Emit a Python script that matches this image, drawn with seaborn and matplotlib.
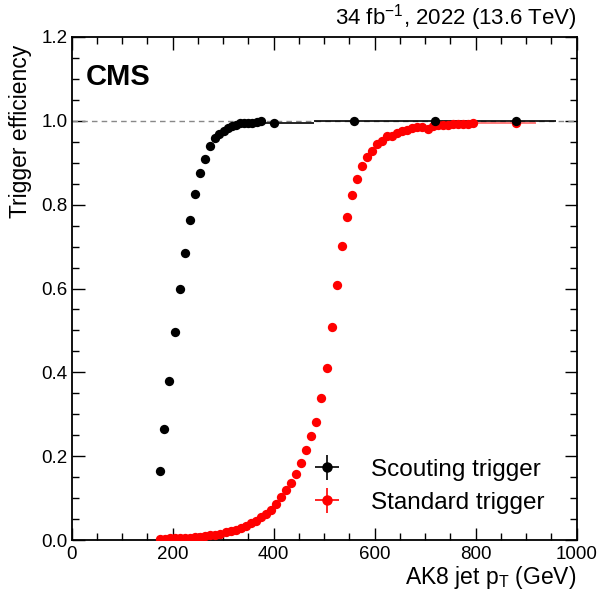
import numpy as np
import pandas as pd
import matplotlib
matplotlib.use("Agg")
import matplotlib.pyplot as plt
import seaborn as sns

# ---- data ----
scout_pt = [175, 184, 194, 204, 214, 224, 234, 245, 254, 264, 274, 284, 293, 301,
            309, 317, 325, 334, 342, 350, 358, 367, 375, 400, 560, 720, 880]
scout_eff = [0.165, 0.266, 0.379, 0.496, 0.598, 0.684, 0.763, 0.825, 0.875, 0.909,
             0.940, 0.958, 0.969, 0.976, 0.983, 0.988, 0.991, 0.995, 0.995, 0.995,
             0.996, 0.997, 0.999, 0.996, 1.000, 1.000, 1.000]
scout_xerr_lo = [5] * 23 + [80, 80, 80, 80]
scout_xerr_hi = [5] * 23 + [80, 80, 80, 80]

std_pt = [175, 185, 195, 205, 215, 225, 235, 245, 255, 265, 275, 285, 295, 305,
          315, 325, 335, 345, 355, 365, 375, 385, 395, 405, 415, 425, 435, 445,
          455, 465, 475, 485, 495, 505, 515, 525, 535, 545, 555, 565, 575, 585,
          595, 605, 615, 625, 635, 645, 655, 665, 675, 685, 695, 705, 715, 725,
          735, 745, 755, 765, 775, 785, 795, 880]
std_eff = [0.003, 0.003, 0.004, 0.004, 0.005, 0.005, 0.006, 0.007, 0.008, 0.009,
           0.011, 0.013, 0.015, 0.018, 0.021, 0.025, 0.029, 0.034, 0.040, 0.046,
           0.054, 0.062, 0.072, 0.085, 0.102, 0.119, 0.137, 0.157, 0.184, 0.214,
           0.249, 0.281, 0.338, 0.411, 0.509, 0.609, 0.701, 0.770, 0.823, 0.861,
           0.893, 0.913, 0.927, 0.944, 0.952, 0.963, 0.965, 0.970, 0.975, 0.979,
           0.983, 0.985, 0.986, 0.981, 0.988, 0.990, 0.991, 0.991, 0.992, 0.993,
           0.993, 0.993, 0.994, 0.995]
std_xerr_lo = [5] * 63 + [80]
std_xerr_hi = [5] * 63 + [40]

labels = ["Scouting trigger", "Standard trigger"]
x_ticks = [0, 200, 400, 600, 800, 1000]
y_ticks = [0.0, 0.2, 0.4, 0.6, 0.8, 1.0, 1.2]

# ---- style ----
sns.set_theme(style="ticks")
plt.rcParams["font.family"] = ["Liberation Sans", "DejaVu Sans"]
plt.rcParams["mathtext.fontset"] = "custom"
plt.rcParams["mathtext.rm"] = "Liberation Sans"
plt.rcParams["mathtext.it"] = "Liberation Sans:italic"
plt.rcParams["text.color"] = "black"
plt.rcParams["axes.labelcolor"] = "black"
plt.rcParams["xtick.color"] = "black"
plt.rcParams["ytick.color"] = "black"

fig = plt.figure(figsize=(5.97, 5.90), dpi=100)
ax = fig.add_axes([0.1198, 0.0847, 0.8459, 0.8526])

df_s = pd.DataFrame({"pt": scout_pt, "eff": scout_eff})
df_r = pd.DataFrame({"pt": std_pt, "eff": std_eff})

ax.axhline(1.0, color="#888888", ls=(0, (4, 3)), lw=1.0, zorder=1)

ax.errorbar(scout_pt, scout_eff, xerr=[scout_xerr_lo, scout_xerr_hi], fmt="none",
            ecolor="black", elinewidth=1.2, zorder=2)
ax.errorbar(std_pt, std_eff, xerr=[std_xerr_lo, std_xerr_hi], fmt="none",
            ecolor="red", elinewidth=1.2, alpha=0.6, zorder=2)

sns.scatterplot(data=df_r, x="pt", y="eff", color="red", s=45, linewidth=0,
                ax=ax, legend=False, zorder=3)
sns.scatterplot(data=df_s, x="pt", y="eff", color="black", s=45, linewidth=0,
                ax=ax, legend=False, zorder=4)

# legend handles (cross-style error-bar markers)
h1 = ax.errorbar([np.nan], [np.nan], xerr=[1], yerr=[1], fmt="o", color="black",
                 ms=6.5, elinewidth=1.2)
h2 = ax.errorbar([np.nan], [np.nan], xerr=[1], yerr=[1], fmt="o", color="red",
                 ms=6.5, elinewidth=1.2)
ax.legend([h1, h2], labels, loc="lower left", bbox_to_anchor=(0.472, 0.052),
          frameon=False, fontsize=17.5, handlelength=1.4, handletextpad=1.1,
          labelspacing=0.45, borderaxespad=0, borderpad=0)

ax.set_xlim(0, 1000)
ax.set_ylim(0, 1.2)
ax.set_xticks(x_ticks)
ax.set_yticks(y_ticks)
ax.set_xticklabels([str(v) for v in x_ticks])
ax.set_yticklabels([f"{v:.1f}" for v in y_ticks])
ax.xaxis.set_minor_locator(matplotlib.ticker.MultipleLocator(50))
ax.yaxis.set_minor_locator(matplotlib.ticker.MultipleLocator(0.05))
ax.tick_params(which="both", direction="in", top=True, right=True,
               labelsize=13.5, colors="black", width=1.0)
ax.tick_params(which="major", length=9)
ax.tick_params(which="minor", length=5)
ax.tick_params(axis="x", pad=4)
ax.tick_params(axis="y", pad=3)
for s in ax.spines.values():
    s.set_visible(True)
    s.set_linewidth(1.3)
    s.set_color("black")

ax.set_xlabel(r"AK8 jet p$_\mathrm{T}$ (GeV)", loc="right", fontsize=16.5,
              labelpad=1)
ax.set_ylabel("Trigger efficiency", loc="top", fontsize=16.5)
ax.yaxis.set_label_coords(-0.078, 0.985)

ax.text(0.028, 0.948, "CMS", transform=ax.transAxes, ha="left", va="top",
        fontsize=21, fontweight="bold")
ax.text(1.0, 1.008, r"34 fb$^{-1}$, 2022 (13.6 TeV)", transform=ax.transAxes,
        ha="right", va="bottom", fontsize=16)

fig.savefig("out.png", dpi=100, facecolor="white")
